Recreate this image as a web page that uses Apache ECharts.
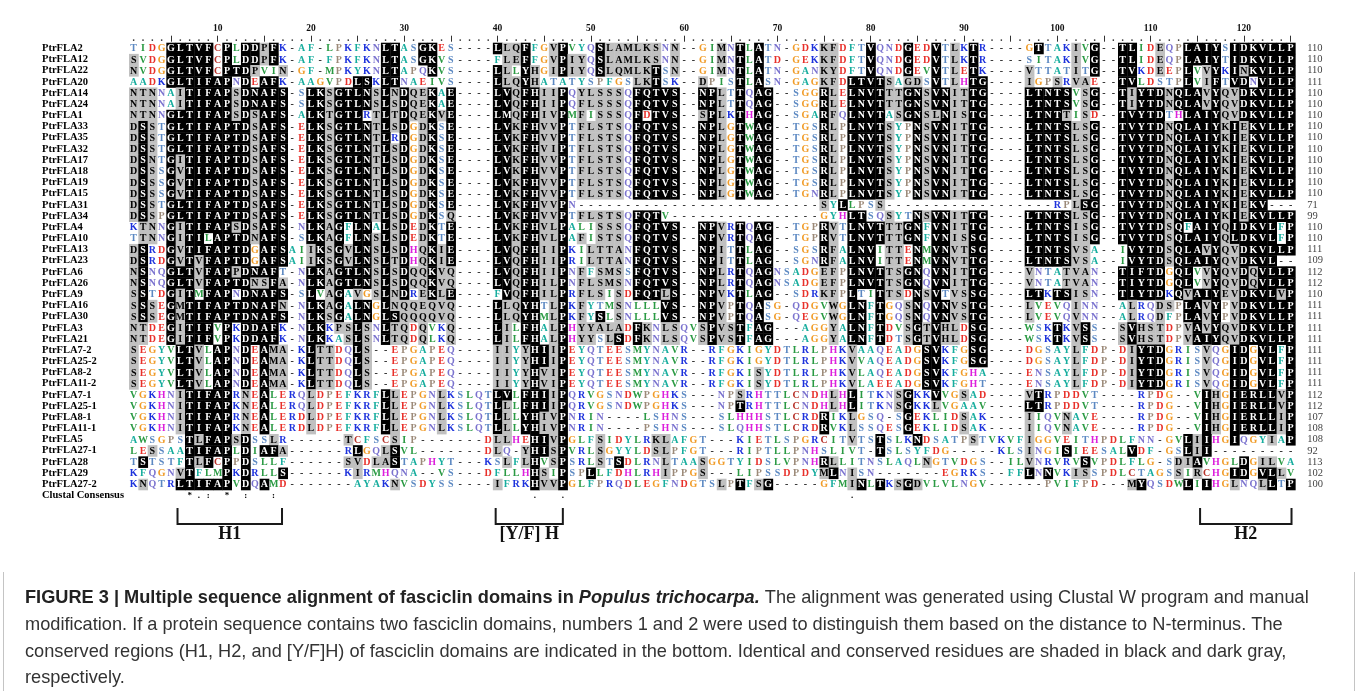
<!DOCTYPE html>
<html>
<head>
<meta charset="utf-8">
<title>Fasciclin domain alignment</title>
<script src="https://cdn.jsdelivr.net/npm/echarts@6.0.0/dist/echarts.min.js"></script>
<style>
  html, body { margin: 0; padding: 0; background: #ffffff; }
  #chart { width: 1358px; height: 691px; }
</style>
</head>
<body>
<div id="chart"></div>
<script>
// ---- Alignment data -------------------------------------------------------
const seqNames = ['PtrFLA2','PtrFLA12','PtrFLA22','PtrFLA20','PtrFLA14','PtrFLA24','PtrFLA1',
  'PtrFLA33','PtrFLA35','PtrFLA32','PtrFLA17','PtrFLA18','PtrFLA19','PtrFLA15','PtrFLA31',
  'PtrFLA34','PtrFLA4','PtrFLA10','PtrFLA13','PtrFLA23','PtrFLA6','PtrFLA26','PtrFLA9',
  'PtrFLA16','PtrFLA30','PtrFLA3','PtrFLA21','PtrFLA7-2','PtrFLA25-2','PtrFLA8-2','PtrFLA11-2',
  'PtrFLA7-1','PtrFLA25-1','PtrFLA8-1','PtrFLA11-1','PtrFLA5','PtrFLA27-1','PtrFLA28',
  'PtrFLA29','PtrFLA27-2'];

const seqLengths = [110,110,110,111,110,110,110,110,110,110,110,110,110,110,71,99,110,110,111,
  109,112,112,110,111,111,111,111,111,111,111,111,112,112,107,108,108,92,113,102,100];

// residues, columns 1-21 / 22-57 / 58-89 / 90-125 (spaces only separate the blocks)
const residues = [
'TIDGGLTVFCPLDDPFK-AF- LPKFKNLTASGKES----LLQFFGVPVYQSLAMLKS NN--GIMNTLATN-GDKKFDFTVQNDGEDVTL KTR----GTTAKIVG--TLIDEQPLAIYSIDKVLLP',
'SVDGGLTVFCPLDDPFK-AF- FPKFKNLTASGKVS----FLEFFGVPIYQSLAMLKS NN--GIMNTLATD-GEKKFDFTVQNDGEDVTL KTR----SITAKIVG--TLIDEQPLAIYTIDKVLLP',
'NVDGGLTVFCPTDPVIN-GF- MPKYKNLTAPQKVS----LLLYHGIPIYQSLQMLKT SN--GIMNTLATN-GANKYDFTVQNDGEVVTL ETK----VTTATITG--TVKDEEPLVVYKINKVLLP',
'AADKGLTIFAPNDEAFK-AAG VPDLSKLTNAEIVS----LLQYHATATYSPFGSLKT SK--DPISTLASN-GAGKFDLTVTSAGDSVTL HTG----IGPSRVAE--TVLDSTPLVIFTVDNVLLP',
'NTNNAITIFAPSDNAFS-SLK SGTLNSLNDQEKAE----LVQFHIIPQYLSSSQFQT VS--NPLTTQAG--SGGRLELNVTTTGNSVNI TTG----LTNTSVSG--TIYTDNQLAVYQVDKVLLP',
'NTNNAITIFAPSDNAFS-SLK SGTLNSLSDQEKAE----LVQFHIIPQFLSSSQFQT VS--NPLTTQAG--SGGRLELNVTTTGNSVNI TTG----LTNTSVSG--TIYTDNQLAVYQVDKVLLP',
'NTNNGLTIFAPSDSAFS-ALK TGTLRTLTDQEKVE----LMQFHIVPMFISSSQFDT VS--SPLKTHAG--SGARFQLNVTASGNSLNI STG----LTNTTISD--TVYTDTHLAIYQVDKVLLP',
'DSSTGLTIFAPTDSAFS-ELK SGTLNTLSDGDKSE----LVKFHVVPTFLSTSQFQT VS--NPLGTWAG--TGSRLPLNVTSYPNSVNI TTG----LTNTSLSG--TVYTDNQLAIYKIEKVLLP',
'DSSTGLTIFAPTDSAFS-ELK SGTLNTLRDGDKSE----LVKFHVVPTFLSTSQFQT VS--NPLGTWAG--TGSRLPLNVTSYPNSVNI TTG----LTNTSLSG--TVYTDNQLAIYKIEKVLLP',
'DSSTGLTIFAPTDSAFS-ELK SGTLNTLSDGDKSE----LVKFHVIPTFLSTSQFQT VS--NPLGTWAG--TGSRLPLNVTSYPNSVNI TTG----LTNTSLSG--TVYTDNQLAIYKIEKVLLP',
'DSNTGITIFAPTDSAFS-ELK SGTLNTLSDGDKSE----LVKFHVVPTFLSTSQFQT VS--NPLGTWAG--TGSRLPLNVTSYPNSVNI TTG----LTNTSLSG--TVYTDNQLAIYKIEKVLLP',
'DSSSGVTIFAPTDSAFS-ELK SGTLNTLSDGDKSE----LVKFHVVPTFLSTSQFQT VS--NPLGTWAG--TGSRLPLNVTSYPNSVNI TTG----LTNTSLSG--TVYTDNQLAIYKIEKVLLP',
'DSSSGVTIFAPTDSAFS-ELK SGTLNTLSDGDKSE----LVKFHVVPTFLSTSQFQT VS--NPLGTWAG--TGSRLPLNVTSYPNSVNI TTG----LTNTSLSG--TVYTDNQLAIYKIEKVLLP',
'DSSSGVTIFAPTDSAFS-ELK SGTLNTLSDGDKSE----LVKFHVVPTFLSTSQFQT VS--NPLGTWAG--TGNRLPLNVTSYPNSVNI TTG----LTNTSLSG--TVYTDNQLAIYKIEKVLLP',
'DSSTGLTIFAPTDSAFS-ELK SGTLNTLSDGDKSE----LVKFHVVPN--------- -----------------SYLLPSS-------- ----------RPLSG--TVYTDNQLAIYKIEKV---',
'DSSPGLTIFAPTDSAFS-ELK SGTLNTLSDGDKSQ----LVKFHVVPTFLSTSQFQT V----------------GYHLTSQSYTNSVNI TTG----LTNTSLSG--TVYTDNQLAIYKIEKVLLP',
'KTNNGITIFAPSDSAFS-NLK AGFLNALSDEDKTE----LVKFHVLPALISSSQFQT VS--NPVRTQAG--TGPRVTLNVTTTGNFVNI TTG----LTNTSISG--TVYTDSQFAIYQIDKVLFP',
'TTNNGITILAPTDNAFS-SLK AGFLNSLSDEDKTE----LVKFHVLPAFISTSQFQT VS--NPVRTQAG--TGPRVTLNVTTTGNFVNI SSG----LTNTSISG--TVYTDSQLAIYQLDKVLFP',
'DSRDGVTIFAPTDGAFSAIIK SGVLNSLSDHQKIE----LVQFHIIPKILTTANFQT VS--NPITTLAG--SGSRFALNVITTENMVNV TSG----LTNTSVSA--IVYTDSQLAVYQVDKVLLP',
'DSRDGVTVFAPTDGAFSAIIK SGVLNSLTDHQKIE----LVQFHIIPRILTTANFQT VS--NPITTLAG--SGNRFALNVITTENMVNV TTG----LTNTSVSA--IVYTDSQLAIYQVDKVL--',
'NSNQGLTVFAPPDNAFT-NLK AGTLNSLSDQQKVQ----LVQFHIIPNFFSMSSFQT VS--NPLRTQAGNSADGEFPLNVTTSGNQVNI TTG----VNTATVAN--TIFTDGQLVVYQVDQVLLP',
'NSNQGLTVFAPTDNSFA-NLK AGTLNSLSDQQKVQ----LVQFHILPNFLSMSNFQT VS--NPLRTQAGNSADGEFPLNVTTSGNQVNI TTG----VNTATVAN--TIYTDGQLVVYQVDQVLLP',
'SSTDGITMFAPNDNAFS-SLV AGAVGSLNDREKLE----FVQFHILPRFLSISDFQT LS--NPVKTLAG--SDRKFPLTITTSDNSVTV SSG----LTKTSISN--TIYTDKQVAIYEVDKVLVP',
'SSSEGMTIFAPTDNAFN-NLK AGALNGLNQQEQVQ----LLQYHTLPKFYTMSNLLL VS--NPVPTQASG-QDGVWGLNFTGQSNQVNV STG----LVEVQINN--ALRQDSPLAVYPVDKVLLP',
'SSSEGMTIFAPTDNAFS-NLK SGALNGLSQQQQVQ----LLQYHMLPKFYSLSNLLL VS--NPVPTQASG-QEGVWGLNFTGQSNQVNV STG----LVEVQVNN--ALRQDFPLAVYPVDKVLLP',
'NTDEGITIFVPKDDAFK-NLK KPSLSNLTQDQVKQ----LILFHALPHYYALADFKN LSQVSPVSTFAG---AGGYALNFTDVSGTVHL DSG----WSKTKVSS--SVHSTDPVAVYQVDKVLLP',
'NTDEGITIFVPKDDAFK-NLK KASLSNLTQDQLKQ----LILFHALPHYYSLSDFKN LSQVSPVSTFAG---AGGYALNFTDTSGTVHL DSG----WSKTKVSS--SVHSTDPVAIYQVDKVLLP',
'SEGYVLTVLAPNDEAMA-KLT TDQLS--EPGAPEQ----IIYYHIIPEYQTEESMYN AVR--RFGKIGYDTLRLPHKVAAQEADGSVKF GSG----DGSAYLFDP-DIYTDGRISVQGIDGVLFP',
'SEGYVLTVLAPNDEAMA-KLT TDQLS--EPGAPEQ----IIYYHIIPEYQTEESMYN AVR--RFGKIGYDTLRLPHKVVAQEADGSVKF GSG----DGSAYLFDP-DIYTDGRISVQGIDGVLFP',
'SEGYVLTVLAPNDEAMA-KLT TDQLS--EPGAPEQ----IIYYHVIPEYQTEESMYN AVR--RFGKISYDTLRLPHKVLAQEADGSVKF GHA----ENSAYLFDP-DIYTDGRISVQGIDGVLFP',
'SEGYVLTVLAPNDEAMA-KLT TDQLS--EPGAPEQ----IIYYHVIPEYQTEESMYN AVR--RFGKISYDTLRLPHKVLAEEADGSVKF GHT----ENSAYLFDP-DIYTDGRISVQGIDGVLFP',
'VGKHNITIFAPRNEALERQLD PEFKRFLLEPGNLKSLQTLVLFHIIPQRVGSNDWPG HKS---NPSRHTTLCNDHLHLITKNSGKKVVG SAD----VTRPDDVT----RPDG--VIHGIERLLVP',
'VGKHNITIFAPKNEALERQLD PEFKRFLLEPGNLKSLQTLLLFHIIPQRVGSNDWPG HKS---NPTRHTTLCNDHLHLITKNSGKKLVG AAV----LTRPDDVT----RPDG--VIHGIERLLVP',
'VGKHNITIFAPRNEALERDLD PEFKRFLLEPGNLKSLQTLLLYHIVPNRIN----LS HNS---SLHHHSTLCRDRIKLGSQ-SGEKLID SAK----IIQVNAVE----RPDG--VIHGIERLLIP',
'VGKHNITIFAPKNEALERDLD PEFKRFLLEPGNLKSLQTLLLYHIVPNRIN----PS HNS---SLQHHSTLCRDRVKLSSQESGEKLID SAK----IIQVNAVE----RPDG--VIHGIERLLIP',
'AWSGPSTLFAPSDSSLR---- --TCFSCSIP-------DLLHEHIVPGLFSIDYLRK LAFGT---KIETLSPGRCITVTSTSLKNDSAT PSTVKVFIGGVEITHPDLFNN-GVLIIHGIQGYIAP',
'LESSAATIFAPLDIAFA---- --RLGQLSVL-------DLQ-YHISPVRLSGYYLDS LPFGT---RIPTLLPNHSLIVT-TSLSYFDG- ----KLSINGISIEESALVDF-GSLII---------',
'TSTSTFTLFCPPDSLLF---- --SVDLASTAPHYT---KSLFLHVSPSRLSTSDLRN LTAASGGTYIDSLVPNHRLLITNSLAQLNGTV DGS--ILVNRVRVSVPDLFLG-SDIAVHGLDGILVA',
'KFQGNVTFLMPKDRLLS---- --KIRMHQNA--VS---DFLLHHSIPSPLLFDHLRH IPPGS---LIPSSDPDYMLNISN-------EG RKS--FFLNNVKISSPDLCTAGSSIRCHGIDGVLLV',
'KNQTRLTIFAPVDQAMD---- ---AYAKNVSDYSS----IFRKHVVPGLFPRQDLEG FNDGTSLPTFSG-----GFMINLTKSGDVLVL NGV------PVIFPD---MYQSDWLIIHGLNQLLTP'
];

// shading per residue: b = identical (black), g = conserved (gray), . = none
const shading = [
'....bbbbb.b.bbgb..... ......bb..bb......bggb..gb...bgggggg .g....g.b.b......gg...b...b..b.g .b......b...g.b..bb..g..bbbb.bbbbbbb',
'g...bbbbb.b.bbgb..... ......bb..bb.......ggb..gbgg.bgggggg .g....g.b.b......gg...b...b..b.g .b..........g.b..bb..g..bbbb.bbbbbbb',
'g...bbbbb.bbbg..g.... ......bb...b......bg.bg.gbgg.bgggggb .g....g.b.b......gg...b...b..b.g .b.....g....g.b..bb..g..b.gb.bgbbbbb',
'....bbbbbbb.b.bb..... ...bb.bb..........bggbg..........ggb ....g...b.b......gg.bbbbg.gg.b.g .bb....g..g.gg...bb.....b.gb.bb.bbbb',
'ggg..gbbbbbgbbbbb..bb gbbbbgbgbggb.b....bbgbbggb.ggggg.bbb bb..bbg.b.bb.....bg.bbbbggbbgbbg gbb....bbbbb.gb..bgbbbgbbbgbggbbbbbb',
'ggg..gbbbbbgbbbbb..bb gbbbbgbgbggb.b....bbgbbggb.ggggg.bbb bb..bbg.b.bb.....bg.bbbbggbbgbbg gbb....bbbbb.gb..bgbbbgbbbgbggbbbbbb',
'ggg.bbbbbbbgbgbbb..bb gbbb.gbgbggbgb....bbgbbggb.g.ggg.b.b bb..gbg.b.bb.....bg.bbbb.gbbggbg gbb....bbbbg.g...bbbbb..bbbbggbbbbbb',
'gbg.bbbbbbbbbgbbb..bb gbbbbgbgb.gb.b....bbgbbggb.ggggg.bbb bb..bbg.b.bb.....bg.bbbbg..bgbbg gbb....bbbbbggb..bbbbbgbbbbbgbgbbbbb',
'gbg.bbbbbbbbbgbbb..bb gbbbbgb.b.gb.b....bbgbbggb.ggggg.bbb bb..bbg.b.bb.....bg.bbbbg..bgbbg gbb....bbbbbggb..bbbbbgbbbbbgbgbbbbb',
'gbg.bbbbbbbbbgbbb..bb gbbbbgbgb.gb.b....bbgbbggb.ggggg.bbb bb..bbg.b.bb.....bg.bbbbg..bgbbg gbb....bbbbbggb..bbbbbgbbbbbgbgbbbbb',
'gbg.bgbbbbbbbgbbb..bb gbbbbgbgb.gb.b....bbgbbggb.ggggg.bbb bb..bbg.b.bb.....bg.bbbbg..bgbbg gbb....bbbbbggb..bbbbbgbbbbbgbgbbbbb',
'gbg.bgbbbbbbbgbbb..bb gbbbbgbgb.gb.b....bbgbbggb.ggggg.bbb bb..bbg.b.bb.....bg.bbbbg..bgbbg gbb....bbbbbggb..bbbbbgbbbbbgbgbbbbb',
'gbg.bgbbbbbbbgbbb..bb gbbbbgbgb.gb.b....bbgbbggb.ggggg.bbb bb..bbg.b.bb.....bg.bbbbg..bgbbg gbb....bbbbbggb..bbbbbgbbbbbgbgbbbbb',
'gbg.bgbbbbbbbgbbb..bb gbbbbgbgb.gb.b....bbgbbggb.ggggg.bbb bb..bbg.b.bb.....bg.bbbbg..bgbbg gbb....bbbbbggb..bbbbbgbbbbbgbgbbbbb',
'gbg.bbbbbbbbbgbbb..bb gbbbbgbgb.gb.b....bbgbbggb.......... .................g.b...g........ ............gbb..bbbbbgbbbbbgbgbb...',
'gbg.bbbbbbbbbgbbb..bb gbbbbgbgb.gb.g....bbgbbggb.ggggg.bbb ....................bb..g..bgbbg gbb....bbbbbggb..bbbbbgbbbbbgbgbbbbb',
'.gg.bgbbbbbgbgbbb..bb gb.bb.bgb.gb.b....bbgbbggb...ggg.bbb bb..bbg.b.bb.....bg.bbbbggbb.bbg gbb....bbbbbggb..bbbbbgb.bbbgbbbbb.b',
'.gg.bgbb.bbbbgbbb..bb gb.bbgbgb.gb.b....bbgbbggb.g.ggg.bbb bb..bbg.b.bb.....bg.bbbbggbb.bbg gbb....bbbbbggb..bbbbbgbbbbbgbbbbb.b',
'gb..bgbbbbbbb.bbb..gb gbgbbgbgb.gbgb....bbgbbggb..gggg.bbb bb..bbg.b.bb.....bg.bbb.gg.b.bbg gbb....bbbbbgg....bbbbgbbbgbggbbbbbb',
'gb..bgbgbbbbb.bbb..gb gbgbbgbgb.gbgb....bbgbbggb..gggg.bbb bb..bbg.b.bb.....bg.bbb.gg.b.bbg gbb....bbbbbgg....bbbbgbbbbbggbbbb..',
'gb..bbbgbbbgbbbb...bb gbbbbgbgbggbgg....bbgbbggb.g.ggg.bbb bb..bbg.b.bb.....gg.bbbbggbb.bbg gbb....g...ggg...bbbbb.bb.gbggbgbbbb',
'gb..bbbgbbbbbggbg..bb gbbbbgbgbggbgg....bbgbbggb.ggggg.bbb bb..bbg.b.bb.....gg.bbbbggbb.bbg gbb....g...ggg...bbbbb.bb.gbggbgbbbb',
'gb..bgb.bbb.bbbbb..b. gb.g.gbgb.gbgb.....bgbbggb.ggg.g.bbb gb..bbg.b.bb.....gg.b..bgg.bgb.g gbb....bb.bbgg...bbbbb.bgbbbggbbbbgb',
'gbg.bgbbbbbbbbbbg..bb gb.bb.bggggggg....bggbb.gb.g...g.... bb..bbg.b.b.......g.bb.b..gb.bbg gbb....g....g.....g..gg.bbgb.gbbbbbb',
'gbg.bgbbbbbbbbbbb..bb gb.bb.bbgggggg....bggbb.gb.g.b.g.... bb..bbg.b.b.......g.bb.b..gb.bbg gbb....g....g.....g..g..bbgb.gbbbbbb',
'gg..bgbbb.b.bbbb...bb .ggbg.bgg.g..g....bg.bb.gb.ggggg.bg. gg..gbggb.bb......g.bb.b..gbgbgg .bb.......b.gb...gbggg..gbgbggbbbbbb',
'gg..bgbbb.b.bbbb...bb ..gbg.bgg.g..g....bg.bb.gb.gg.gb.bg. gg..gbggb.bb......g.bb.b..gbgbgg .bb.......b.gb...gbggg..gbbbggbbbbbb',
'g....bbg.bb.b.bgg..bg g..bg.............gg.gbbgb.......... ....................g.......bb.. .bb.........g.....gbbb....g..bb.bb.b',
'g....bbg.bb.b.bgg..bg g..bg.............gg.gbbgb.......... ....................g.......bb.. .bb.........g.....gbbb....g..bb.bb.b',
'g....bbg.bb.b.bgg..bg g..bg.............gg.gbggb.......... ..........g.........g.......bb.. ............g.....gbbb....g..bb.bb.b',
'g....bbg.bb.b.bgg..bg g..bg.............gg.gbggb.......... ..........g.........g.......bb.. ............g.....gbbb....g..bb.bb.b',
'.....gbbbbb.g.b....g. ......bg....g.....bb.bbbgb.......... ........g.........g.b....gb..b.. g......gb.................bg.bbbbbgb',
'.....gbbbbb.g.b....g. ......bg....g.....bg.bbbgb.......... ........b.........g.b....gb..g.. .......bb.................bg.bbbbbgb',
'.....gbbbbb.g.b....g. ......bg....g.....bg.bbggb.......... .................b..g.....b..... g......g...g..............bg.bbbbbgb',
'.....gbbbbb.g.b....g. ......bg....g.....bg.bbggb.......... .................b..g.....b..... g......g...g..............bg.bbbbbgb',
'......bgbbbgb..g..... ..g....g..........gg..bbgb...g.....g g...................g..b...b.... .g.....g................bgb..b...g.b',
'..g...bbbbb.b.bbg.... ...b..gb..........g..gbbgb...g.....g g......................b........ .......g...b......b.....bgb.........',
'.b....bgb.b.b........ ..gg.ggb...........g.gb.gb...g.b.... g...g............bg.........g... .......g.....b.........ggb....b.gg..',
'.....gb...b.b...b.... ...g..................bg.b..b....... g...g............gb.g........... .......b.b..gg.........g.g...bb.bbg.',
'.g...bbbbbb.b.b...... .......g..........g...bggb.......... ......g.b.gb........gb.b.gbg.... ..................gb....b.b..g..gb.b'
];

// Clustal consensus marks: [column, mark]
const consensusMarks = [[7,'*'],[8,'.'],[9,':'],[11,'*'],[13,':'],[16,':'],[44,'.'],[47,'.'],[78,'.']];

// conserved motifs marked under the alignment: label, first column, last column
const motifLabels = ['H1', '[Y/F] H', 'H2'];
const motifFrom = [5.7, 39.8, 115.3];
const motifTo = [16.9, 47, 125.1];

const rulerStep = 10;
const columnCount = 125;

// ---- Colours --------------------------------------------------------------
const residueColor = {
  A: '#17ad9e', F: '#17ad9e', Y: '#17ad9e',
  I: '#2a9a43', L: '#2a9a43', V: '#2a9a43', M: '#2a9a43', W: '#2a9a43',
  D: '#e8302a', E: '#e8302a',
  K: '#1d32dc', R: '#1d32dc',
  H: '#dc1fdc',
  G: '#f19c28',
  S: '#5b88c2', T: '#5b88c2',
  N: '#7b73cf', Q: '#7b73cf',
  P: '#9c8a79',
  C: '#b8332b',
  '-': '#222222'
};
const GRAY = '#c0c0c0';
const SERIF = '"Liberation Serif", "Times New Roman", serif';

// ---- Build cells ----------------------------------------------------------
const rows = residues.map(s => s.replace(/ /g, ''));
const shades = shading.map(s => s.replace(/ /g, ''));
const yCats = seqNames.concat(['Clustal Consensus']);
const xCats = [];
for (let c = 1; c <= columnCount; c++) xCats.push(String(c));

const cells = [];
rows.forEach((seq, r) => {
  for (let c = 0; c < columnCount; c++) {
    const ch = seq[c];
    if (!ch) continue;
    cells.push({ c: c, r: r, ch: ch, sh: (shades[r] && shades[r][c]) || '.' });
  }
});
consensusMarks.forEach(([col, mark]) => {
  cells.push({ c: col - 1, r: seqNames.length, ch: mark, sh: '.', cons: true });
});

const rulerDots = [];
for (let c = 0; c < columnCount; c++) if ((c + 1) % 5 !== 0) rulerDots.push([c, 0]);

function renderCell(params, api) {
  const cell = cells[params.dataIndex];
  const p = api.coord([cell.c, cell.r]);
  const sz = api.size([1, 1]);
  const w = sz[0], h = sz[1];
  const kids = [];
  let fill = residueColor[cell.ch] || '#000';
  if (cell.sh === 'b') {
    kids.push({ type: 'rect', shape: { x: p[0] - w / 2, y: p[1] - h / 2, width: w + 0.4, height: h + 0.4 },
      style: { fill: '#000' } });
    fill = '#fff';
  } else if (cell.sh === 'g') {
    kids.push({ type: 'rect', shape: { x: p[0] - w / 2, y: p[1] - h / 2, width: w + 0.4, height: h + 0.4 },
      style: { fill: GRAY } });
    fill = '#000';
  }
  if (cell.cons) fill = '#000';
  kids.push({ type: 'text', x: p[0], y: p[1] + 0.5,
    style: { text: cell.ch, fill: fill, font: (cell.cons ? 'bold 9px ' : 'bold 10px ') + SERIF,
      align: 'center', verticalAlign: 'middle' } });
  return { type: 'group', children: kids };
}

function renderRulerDot(params, api) {
  const p = api.coord([api.value(0), 0]);
  const h = api.size([1, 1])[1];
  return { type: 'circle', shape: { cx: p[0], cy: p[1] - h / 2 - 2.6, r: 0.85 }, style: { fill: '#333' } };
}

function renderMotif(params, api) {
  const i = params.dataIndex;
  const base = api.coord([0, seqNames.length]);
  const cw = api.size([1, 1])[0];
  const x1 = base[0] + (motifFrom[i] - 1) * cw;
  const x2 = base[0] + (motifTo[i] - 1) * cw;
  const yTop = base[1] + 12.5, yBot = base[1] + 28.5;
  return { type: 'group', children: [
    { type: 'polyline', shape: { points: [[x1, yTop], [x1, yBot], [x2, yBot], [x2, yTop]] },
      style: { stroke: '#1a1a1a', lineWidth: 2, fill: null } },
    { type: 'text', x: (x1 + x2) / 2, y: base[1] + 39,
      style: { text: motifLabels[i], font: 'bold 18px ' + SERIF, fill: '#111', align: 'center', verticalAlign: 'middle' } }
  ] };
}

const capFont = '"Liberation Sans", Arial, sans-serif';
const capSize = 18.2;
const capRich = {
  b: { fontFamily: capFont, fontSize: capSize, fontWeight: 'bold', fill: '#222' },
  bi: { fontFamily: capFont, fontSize: capSize, fontWeight: 'bold', fontStyle: 'italic', fill: '#222' },
  r: { fontFamily: capFont, fontSize: capSize, fill: '#333' }
};
const captionLines = [
  '{b|FIGURE 3 | Multiple sequence alignment of fasciclin domains in }{bi|Populus trichocarpa.}{r| The alignment was generated using Clustal W program and manual}',
  '{r|modification. If a protein sequence contains two fasciclin domains, numbers 1 and 2 were used to distinguish them based on the distance to N-terminus. The}',
  '{r|conserved regions (H1, H2, and [Y/F]H) of fasciclin domains are indicated in the bottom. Identical and conserved residues are shaded in black and dark gray,}',
  '{r|respectively.}'
];
const captionY = [598, 625, 652, 678];

// sanity check on row widths
const bad = [];
rows.forEach((s, i) => { if (s.length !== columnCount) bad.push(seqNames[i] + ':' + s.length); });
shades.forEach((s, i) => { if (s.length !== columnCount) bad.push('shade ' + seqNames[i] + ':' + s.length); });
if (bad.length) console.error('Row width mismatch: ' + bad.join(', '));

const chart = echarts.init(document.getElementById('chart'));
chart.setOption({
  animation: false,
  backgroundColor: '#ffffff',
  grid: { left: 129, top: 42.7, width: 9.33 * columnCount, height: 11.18 * yCats.length },
  xAxis: {
    type: 'category', data: xCats, position: 'top', offset: 1,
    axisLine: { show: false },
    axisTick: { show: true, alignWithLabel: true, length: 6, interval: (i) => (i + 1) % 5 === 0,
      lineStyle: { color: '#333', width: 1 } },
    axisLabel: { interval: (i) => (i + 1) % rulerStep === 0, margin: 8,
      fontFamily: SERIF, fontWeight: 'bold', fontSize: 9.5, color: '#111' },
    splitLine: { show: false }
  },
  yAxis: [
    { type: 'category', data: yCats, inverse: true,
      axisLine: { show: false }, axisTick: { show: false },
      axisLabel: { interval: 0, align: 'left', margin: 87, fontFamily: SERIF, fontWeight: 'bold',
        fontSize: 10.5, color: '#000' },
      splitLine: { show: false } },
    { type: 'category', data: yCats, inverse: true, position: 'right',
      axisLine: { show: false }, axisTick: { show: false },
      axisLabel: { interval: 0, align: 'left', margin: 12, fontFamily: SERIF, fontSize: 10.5, color: '#444',
        formatter: (v, i) => (i < seqLengths.length ? String(seqLengths[i]) : '') },
      splitLine: { show: false } }
  ],
  series: [
    { type: 'custom', name: 'alignment', xAxisIndex: 0, yAxisIndex: 0, silent: true,
      progressive: 0, progressiveThreshold: 100000,
      data: cells.map(d => [d.c, d.r]), renderItem: renderCell },
    { type: 'custom', name: 'ruler', silent: true, progressive: 0, data: rulerDots, renderItem: renderRulerDot },
    { type: 'custom', name: 'motifs', silent: true, progressive: 0,
      data: motifFrom.map(f => [Math.round(f) - 1, seqNames.length]), renderItem: renderMotif }
  ],
  graphic: [
    { type: 'line', silent: true, shape: { x1: 3.5, y1: 572, x2: 3.5, y2: 691 }, style: { stroke: '#c4c4c4', lineWidth: 1 } },
    { type: 'line', silent: true, shape: { x1: 1354.5, y1: 572, x2: 1354.5, y2: 691 }, style: { stroke: '#c4c4c4', lineWidth: 1 } }
  ].concat(captionLines.map((t, i) => ({
    type: 'text', silent: true, x: 25, y: captionY[i],
    style: { text: t, rich: capRich, verticalAlign: 'middle', font: capSize + 'px ' + capFont, fill: '#333' }
  })))
});
</script>
</body>
</html>
